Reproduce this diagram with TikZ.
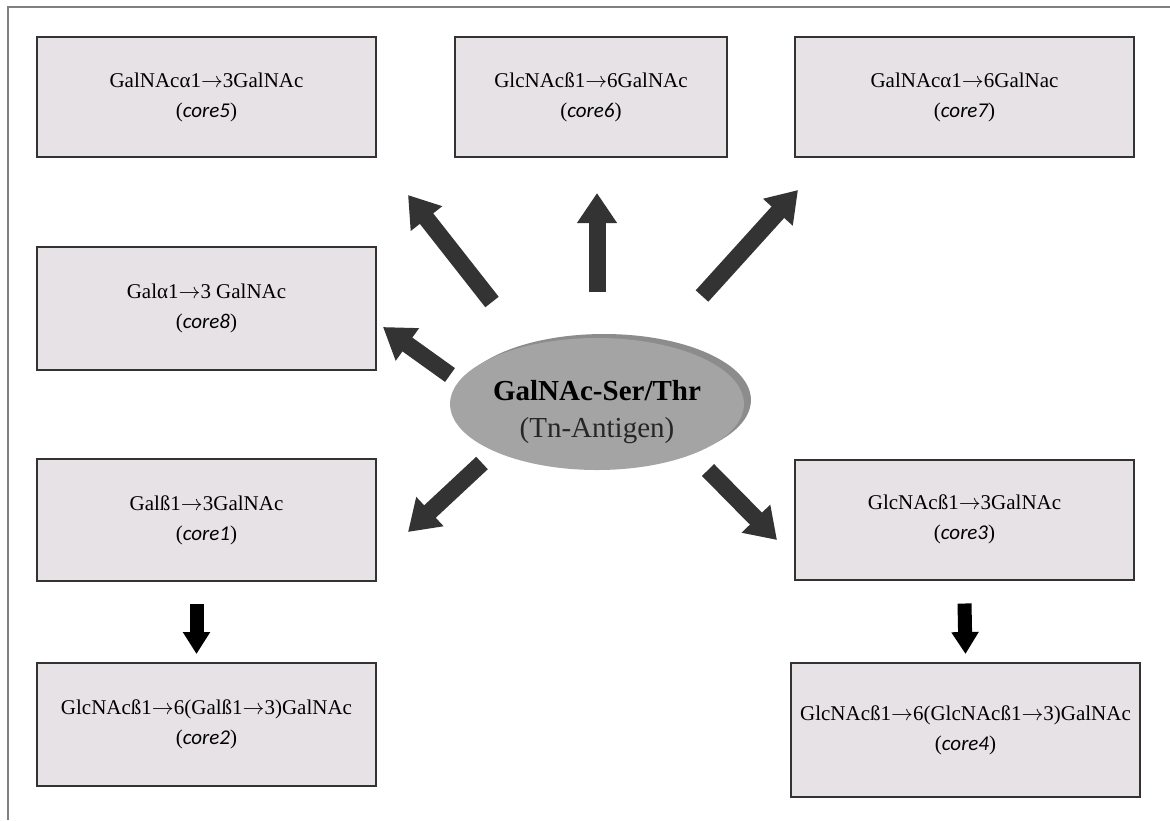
\documentclass[tikz,border=0pt]{standalone}
\usepackage{fontspec}
\setmainfont{Liberation Serif}
\newfontfamily\corefont{Carlito}
\usepackage{xcolor}
\usetikzlibrary{arrows.meta,shapes.geometric,shadows}

\definecolor{boxfill}{HTML}{E6E2E6}
\definecolor{arrowgray}{HTML}{333333}
\definecolor{tngray}{HTML}{A4A4A4}
\definecolor{tnrim}{HTML}{8C8C8C}

\newcommand{\corelabel}[1]{({\corefont\itshape core#1})}
\newcommand{\linkto}{$\rightarrow$}

\tikzset{
  corebox/.style={draw=black!80, line width=1pt, fill=boxfill, minimum width=169.5pt,
    minimum height=60pt, align=center, inner sep=2pt, font=\fontsize{10.5}{15}\selectfont},
  fatarrow/.style={draw=arrowgray, line width=8.5pt, -{Triangle[length=15pt,width=19pt]}},
  droparrow/.style={draw=black, line width=7pt, -{Triangle[length=11pt,width=13pt]}},
}

\begin{document}
\begin{tikzpicture}[x=0.5pt,y=-0.5pt]
  \useasboundingbox (0,0) rectangle (1170,820);
  % frame
  \draw[gray, line width=0.75pt] (8,820) -- (8,7) -- (1170,7);

  % core boxes
  \node[corebox] (c5) at (206.5,97) {GalNAcα1\linkto3GalNAc\\\corelabel{5}};
  \node[corebox, minimum width=136pt] (c6) at (591,97) {GlcNAcß1\linkto6GalNAc\\\corelabel{6}};
  \node[corebox] (c7) at (964.5,97) {GalNAcα1\linkto6GalNac\\\corelabel{7}};
  \node[corebox, minimum height=61.5pt] (c8) at (206.5,308.5) {Galα1\linkto3 GalNAc\\\corelabel{8}};
  \node[corebox, minimum height=61pt] (c1) at (206.5,520) {Galß1\linkto3GalNAc\\\corelabel{1}};
  \node[corebox, minimum height=61.5pt] (c2) at (206.5,724.5) {GlcNAcß1\linkto6(Galß1\linkto3)GalNAc\\\corelabel{2}};
  \node[corebox] (c3) at (964.5,519.5) {GlcNAcß1\linkto3GalNAc\\\corelabel{3}};
  \node[corebox, minimum width=174.5pt, minimum height=67pt] (c4) at (965.5,730) {GlcNAcß1\linkto6(GlcNAcß1\linkto3)GalNAc\\\corelabel{4}};

  % Tn antigen
  \node[ellipse, fill=tngray, minimum width=143pt, minimum height=66pt, inner sep=0pt, align=center,
    font=\fontsize{14.5}{18.5}\selectfont, text height=37pt,
    general shadow={fill=tnrim, shadow xshift=3.5pt, shadow yshift=2pt}] (tn) at (597,404)
    {\textbf{GalNAc-Ser/Thr}\\{\color{black!85}(Tn-Antigen)}};

  % arrow ends
  \coordinate (s5) at (492,302); \coordinate (e5) at (408,195);
  \coordinate (s6) at (597,292); \coordinate (e6) at (597,193);
  \coordinate (s7) at (702,296); \coordinate (e7) at (798,190);
  \coordinate (s8) at (450,375); \coordinate (e8) at (383,327);
  \coordinate (s1) at (482,463); \coordinate (e1) at (408,532);
  \coordinate (s3) at (708,470); \coordinate (e3) at (777,540);

  \foreach \k in {5,6,7,8,1,3}
    \draw[fatarrow] (s\k) -- (e\k);

  \draw[droparrow] ([xshift=-5pt,yshift=-11pt]c1.south) -- ([xshift=-5pt,yshift=4pt]c2.north);
  \draw[droparrow] ([yshift=-11.5pt]c3.south) -- ([yshift=4pt]c4.north);
\end{tikzpicture}
\end{document}
